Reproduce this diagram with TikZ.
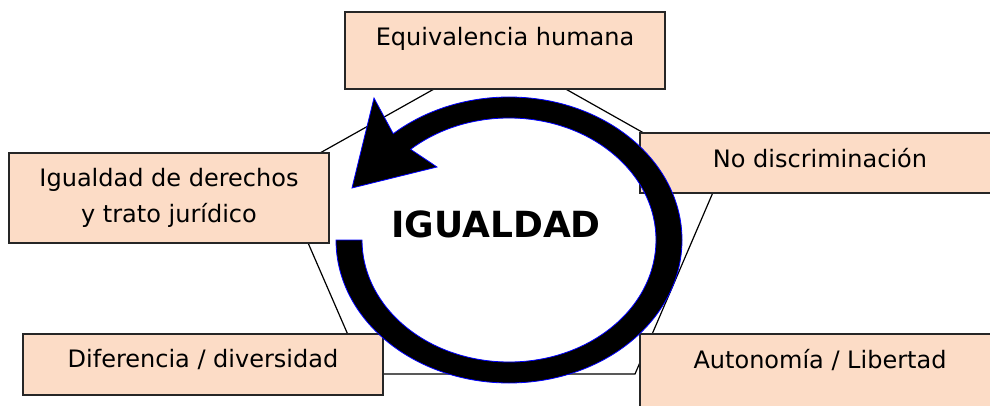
\documentclass[tikz,border=0pt]{standalone}
\usepackage{fontspec}
\setmainfont{DejaVu Sans}
\definecolor{melocoton}{RGB}{252,220,198}

\begin{document}
\begin{tikzpicture}[x=1pt,y=1pt,
  caja/.style={draw=black!85,line width=1.2pt,fill=melocoton,inner sep=0pt,
    font=\fontsize{24}{36}\selectfont,align=center}]

\useasboundingbox (0,0) rectangle (990,405);
\clip (0,0) rectangle (990,405);

% pentagono
\coordinate (p1) at (500,353);
\coordinate (p2) at (720,229);
\coordinate (p3) at (635,31);
\coordinate (p4) at (365,31);
\coordinate (p5) at (279,229);
\draw [line width=1.2pt] (p1) -- (p2) -- (p3) -- (p4) -- (p5) -- cycle;

% cajas
\node [caja,minimum width=320,text height=34,text depth=43] (equi) at (505,354.5) {Equivalencia humana};
\node [caja,minimum width=320,minimum height=90] (derechos) at (169,207) {Igualdad de derechos\\y trato jurídico};
\node [caja,minimum width=360,text height=34,text depth=26] (nodis) at (820,242) {No discriminación};
\node [caja,minimum width=360,text height=33,text depth=28] (dif) at (203,40.5) {Diferencia / diversidad};
\node [caja,minimum width=360,text height=34,text depth=62] (auto) at (820,23) {Autonomía / Libertad};

% flecha circular
\coordinate (c) at (509,165);
\fill [black,draw=blue,line width=0.8pt]
  ([shift={(180:173 and 143)}]c) arc [start angle=180,end angle=492,x radius=173,y radius=143]
  -- (374,307) -- (352,217) -- (437,238)
  -- ([shift={(492:147 and 122)}]c) arc [start angle=492,end angle=180,x radius=147,y radius=122]
  -- cycle;

\node [anchor=base,font=\fontsize{36}{40}\bfseries\selectfont] (igualdad) at (496,168) {IGUALDAD};

\end{tikzpicture}
\end{document}
